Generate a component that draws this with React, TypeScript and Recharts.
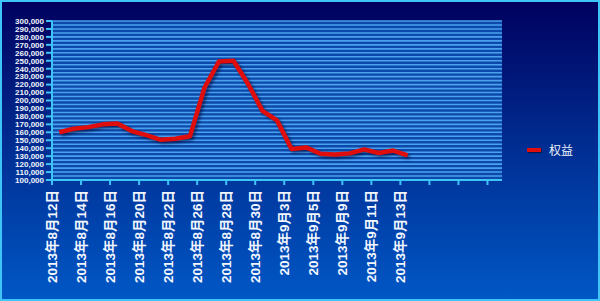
import React from "react";
import {
  LineChart,
  Line,
  XAxis,
  YAxis,
  CartesianGrid,
} from "recharts";

// trading days shown on the category axis
const dates = [
  "2013年8月12日", "2013年8月13日", "2013年8月14日", "2013年8月15日", "2013年8月16日",
  "2013年8月19日", "2013年8月20日", "2013年8月21日", "2013年8月22日", "2013年8月23日",
  "2013年8月26日", "2013年8月27日", "2013年8月28日", "2013年8月29日", "2013年8月30日",
  "2013年9月2日", "2013年9月3日", "2013年9月4日", "2013年9月5日", "2013年9月6日",
  "2013年9月9日", "2013年9月10日", "2013年9月11日", "2013年9月12日", "2013年9月13日",
];

const equity = [
  160000, 164500, 166500, 170000, 171000,
  161500, 156500, 150500, 152000, 155000,
  216000, 249000, 250000, 221000, 187000,
  175000, 139000, 141000, 133000, 132000,
  133500, 138500, 134000, 137000, 131000,
];

const categoryCount = 31;
const yTicks = Array.from({ length: 21 }, (_, i) => 100000 + i * 10000);
const gridValues = Array.from({ length: 41 }, (_, i) => 100000 + i * 5000);
const xTicks = Array.from({ length: 16 }, (_, i) => i * 2);

const data = equity.map((v, i) => ({ x: i + 0.5, date: dates[i], 权益: v }));

const AXIS = "#3ec4f6";

function DateTick(props: any) {
  const { x, y, payload } = props;
  const label = dates[payload.value];
  if (!label) return null;
  const ty = y + 3;
  return (
    <text
      x={x}
      y={ty}
      transform={`rotate(-90 ${x} ${ty})`}
      textAnchor="end"
      dominantBaseline="central"
      fill="#f2f6ff"
      fontSize={13.5}
      fontWeight="bold"
      fontFamily="'Liberation Sans', Arial, 'Noto Sans CJK SC', sans-serif"
    >
      {label}
    </text>
  );
}

export default function App() {
  return (
    <div
      style={{
        position: "fixed",
        left: 0,
        top: 0,
        width: 600,
        height: 301,
        background: "linear-gradient(180deg, #00005e 0%, #002a8e 45%, #0058c6 100%)",
        overflow: "hidden",
      }}
    >
      <div
        style={{
          position: "absolute",
          inset: 0,
          border: `2px solid ${AXIS}`,
          boxSizing: "border-box",
          pointerEvents: "none",
          zIndex: 2,
        }}
      />
      <LineChart
        width={600}
        height={301}
        data={data}
        margin={{ top: 21, right: 98, bottom: 11, left: 0 }}
        style={{ position: "absolute", left: 0, top: 0 }}
      >
        <CartesianGrid
          vertical={false}
          horizontalValues={gridValues}
          stroke="#4aa2ee"
          strokeWidth={1.6}
          fill="#0c49aa"
          fillOpacity={1}
        />
        <XAxis
          dataKey="x"
          type="number"
          domain={[0, categoryCount]}
          ticks={xTicks}
          interval={0}
          height={110}
          tickSize={5}
          tickMargin={2}
          axisLine={{ stroke: AXIS, strokeWidth: 2 }}
          tickLine={{ stroke: AXIS, strokeWidth: 2 }}
          tick={<DateTick />}
        />
        <YAxis
          type="number"
          domain={[100000, 300000]}
          ticks={yTicks}
          interval={0}
          width={52}
          tickSize={6}
          tickMargin={2}
          axisLine={{ stroke: AXIS, strokeWidth: 2 }}
          tickLine={{ stroke: AXIS, strokeWidth: 2 }}
          tick={{
            fill: "#f2f5fc",
            fontSize: 8,
            fontWeight: "bold",
            fontFamily: "'Liberation Sans', Arial, sans-serif",
          }}
          tickFormatter={(v: number) => v.toLocaleString("en-US")}
        />
        <Line
          type="linear"
          dataKey="权益"
          stroke="#e00d0d"
          strokeWidth={4.5}
          strokeLinejoin="round"
          dot={false}
          activeDot={false}
          isAnimationActive={false}
          style={{ filter: "drop-shadow(2px 2px 1.5px rgba(0,0,40,0.55))" }}
        />
      </LineChart>
      <div
        style={{
          position: "absolute",
          left: 527,
          top: 141,
          display: "flex",
          alignItems: "center",
        }}
      >
        <div
          style={{
            width: 14,
            height: 4,
            background: "#e00d0d",
            boxShadow: "1px 1px 1px rgba(0,0,0,0.5)",
            marginRight: 8,
          }}
        />
        <span
          style={{
            color: "#eef2fb",
            fontSize: 12,
            fontFamily: "'Noto Sans CJK SC', sans-serif",
          }}
        >
          权益
        </span>
      </div>
    </div>
  );
}
